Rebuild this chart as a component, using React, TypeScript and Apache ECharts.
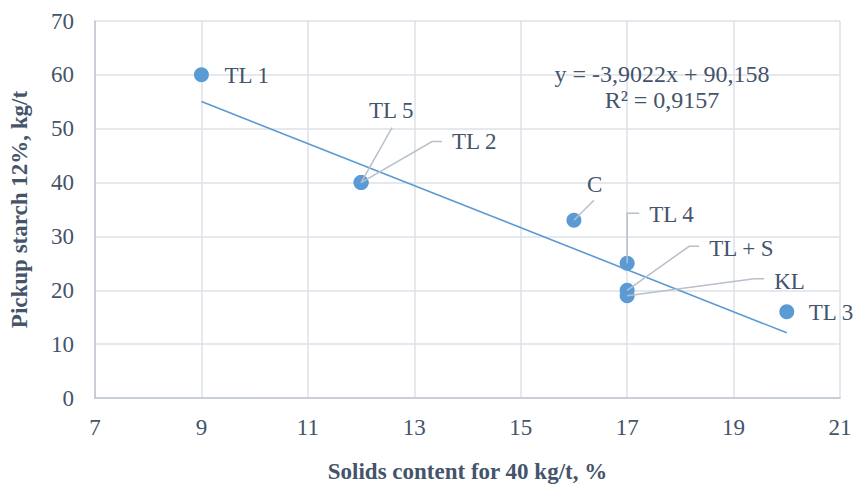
import React, { useEffect, useRef } from "react";
import * as echarts from "echarts";

// ---- data ----
const pointNames = ["TL 1", "TL 5", "TL 2", "C", "TL 4", "TL + S", "KL", "TL 3"];
const solidsContent = [9, 12, 12, 16, 17, 17, 17, 20];
const pickupStarch = [60, 40, 40, 33, 25, 20, 19, 16];
const trendX = [9, 20];
const trendY = [55.04, 12.11];
const equationLines = ["y = -3,9022x + 90,158", "R² = 0,9157"];
const xTicks = { min: 7, max: 21, interval: 2 };
const yTicks = { min: 0, max: 70, interval: 10 };

// ---- layout of labels (pixel offsets from point centre) ----
const labelLayouts: { label: [number, number]; leader: [number, number][] }[] = [
  { label: [23, 1], leader: [] },
  { label: [8, -72], leader: [[0, 0], [31, -55]] },
  { label: [91, -41], leader: [[0, 0], [71, -41], [81, -41]] },
  { label: [13, -36], leader: [[0, 0], [20, -20]] },
  { label: [22, -49], leader: [[0, 0], [0, -50], [12, -50]] },
  { label: [82, -42], leader: [[0, 0], [62, -44], [72, -44]] },
  { label: [147, -14], leader: [[0, 0], [127, -17], [137, -17]] },
  { label: [22, 1], leader: [] },
];

const FONT = "Liberation Serif, Times New Roman, serif";
const TEXT_COLOR = "#44546a";
const FS = 23;

export default function App() {
  const ref = useRef<HTMLDivElement>(null);
  useEffect(() => {
    if (!ref.current) return;
    const chart = echarts.init(ref.current, undefined, { renderer: "svg" });
    const scatterData = pointNames.map((n, i) => ({ name: n, value: [solidsContent[i], pickupStarch[i]] }));
    const trendData = trendX.map((x, i) => [x, trendY[i]]);
    chart.setOption({
      animation: false,
      backgroundColor: "#ffffff",
      textStyle: { fontFamily: FONT },
      grid: { left: 88, right: 16, top: 21, bottom: 78, containLabel: false },
      xAxis: {
        type: "value",
        min: xTicks.min,
        max: xTicks.max,
        interval: xTicks.interval,
        name: "Solids content for 40 kg/t, %",
        nameLocation: "middle",
        nameGap: 62,
        nameTextStyle: { fontFamily: FONT, fontSize: FS, fontWeight: "bold", color: TEXT_COLOR },
        axisLine: { show: true, onZero: false, lineStyle: { color: "#bfc5ce", width: 1.5 } },
        axisTick: { show: false },
        axisLabel: { fontFamily: FONT, fontSize: FS, color: TEXT_COLOR, margin: 18 },
        splitLine: { show: true, lineStyle: { color: "#dde1e7", width: 1.5 } },
      },
      yAxis: {
        type: "value",
        min: yTicks.min,
        max: yTicks.max,
        interval: yTicks.interval,
        name: "Pickup starch 12%, kg/t",
        nameLocation: "middle",
        nameGap: 64,
        nameTextStyle: { fontFamily: FONT, fontSize: FS, fontWeight: "bold", color: TEXT_COLOR },
        axisLine: { show: true, onZero: false, lineStyle: { color: "#bfc5ce", width: 1.5 } },
        axisTick: { show: false },
        axisLabel: { fontFamily: FONT, fontSize: FS, color: TEXT_COLOR, margin: 21 },
        splitLine: { show: true, lineStyle: { color: "#dde1e7", width: 1.5 } },
      },
      series: [
        {
          type: "line",
          data: trendData,
          symbol: "none",
          lineStyle: { color: "#5b9bd5", width: 1.6 },
          z: 2,
          silent: true,
        },
        {
          type: "scatter",
          data: scatterData,
          symbol: "circle",
          symbolSize: 15,
          itemStyle: { color: "#5b9bd5", opacity: 1 },
          z: 3,
          label: {
            show: true,
            formatter: "{b}",
            fontFamily: FONT,
            fontSize: FS,
            color: TEXT_COLOR,
          },
          labelLayout: (params: any) => {
            const r = params.rect;
            const cx = r.x + r.width / 2;
            const cy = r.y + r.height / 2;
            const l = labelLayouts[params.dataIndex];
            return { x: cx + l.label[0], y: cy + l.label[1], align: "left", verticalAlign: "middle" };
          },
        },
      ],
    });

    const graphics: any[] = [];
    scatterData.forEach((d, i) => {
      const l = labelLayouts[i];
      if (!l.leader.length) return;
      const p = chart.convertToPixel({ gridIndex: 0 }, d.value as number[]) as number[];
      graphics.push({
        type: "polyline",
        z: 10,
        silent: true,
        shape: { points: l.leader.map((o) => [p[0] + o[0], p[1] + o[1]]) },
        style: { stroke: "#b8c0cb", lineWidth: 1.5, fill: null },
      });
    });
    graphics.push({
      type: "text",
      x: 662,
      y: 61,
      style: {
        text: equationLines.join("\n"),
        fontFamily: FONT,
        fontSize: 24,
        fill: TEXT_COLOR,
        align: "center",
        verticalAlign: "top",
        lineHeight: 26,
      },
    });
    chart.setOption({ graphic: graphics });

    return () => chart.dispose();
  }, []);
  return <div ref={ref} style={{ position: "absolute", left: 0, top: 0, width: 856, height: 488 }} />;
}
